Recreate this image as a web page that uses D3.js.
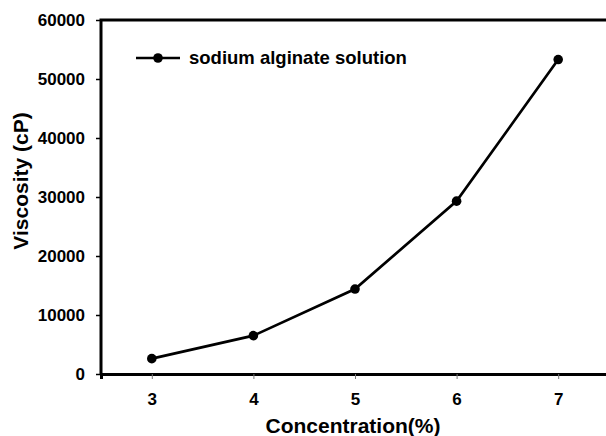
<!DOCTYPE html>
<html>
<meta charset="utf-8">
<style>
body { margin: 0; background: #fff; }
text { font-family: "Liberation Sans", Arial, sans-serif; font-weight: bold; fill: #000; }
</style>
<svg id="chart" width="606" height="436"></svg>
<script src="https://d3js.org/d3.v7.min.js"></script>
<script>

var concentration = [3, 4, 5, 6, 7];
var viscosity = [2600, 6500, 14400, 29300, 53300];
var yTicks = [0, 10000, 20000, 30000, 40000, 50000, 60000];
var seriesName = "sodium alginate solution";

var svg = d3.select("#chart"),
    plotLeft = 101, plotTop = 20, plotBottom = 374, plotRight = 609;

var x = d3.scaleLinear().domain([2.5, 7.5]).range([plotLeft, plotRight]);
var y = d3.scaleLinear().domain([0, 60000]).range([plotBottom, plotTop]);

// frame (left + top)
svg.append("path")
    .attr("d", "M" + plotLeft + "," + plotBottom + "V" + plotTop + "H" + plotRight)
    .attr("fill", "none").attr("stroke", "#000").attr("stroke-width", 3);

var yAxis = svg.append("g")
    .attr("transform", "translate(" + plotLeft + ",0)")
    .call(d3.axisLeft(y).tickValues(yTicks).tickSize(5).tickPadding(11).tickFormat(d3.format("d")));
yAxis.select(".domain").remove();
yAxis.selectAll("line").attr("stroke-width", 1.5);
yAxis.selectAll("text").style("font-size", "17px");

var xAxis = svg.append("g")
    .attr("transform", "translate(0," + plotBottom + ")")
    .call(d3.axisBottom(x).tickValues(concentration).tickSize(5).tickPadding(14).tickFormat(d3.format("d")));
xAxis.select(".domain").attr("stroke-width", 3);
xAxis.selectAll("line").attr("stroke", "#777");
xAxis.selectAll("text").style("font-size", "17px");

svg.append("text")
    .attr("x", 353).attr("y", 433)
    .attr("text-anchor", "middle")
    .style("font-size", "21px")
    .text("Concentration(%)");

svg.append("text")
    .attr("transform", "translate(28,181) rotate(-90)")
    .attr("text-anchor", "middle")
    .style("font-size", "21px")
    .text("Viscosity (cP)");

var line = d3.line()
    .x(function(d, i) { return x(concentration[i]); })
    .y(function(d) { return y(d); });

svg.append("path")
    .datum(viscosity)
    .attr("d", line)
    .attr("fill", "none").attr("stroke", "#000").attr("stroke-width", 2.7);

svg.selectAll(".dot")
    .data(viscosity)
    .enter().append("circle")
    .attr("cx", function(d, i) { return x(concentration[i]); })
    .attr("cy", function(d) { return y(d); })
    .attr("r", 4.8);

// legend
var lg = svg.append("g").attr("transform", "translate(136,58)");
lg.append("line").attr("x1", 0).attr("x2", 44).attr("stroke", "#000").attr("stroke-width", 2.7);
lg.append("circle").attr("cx", 22).attr("r", 4.8);
lg.append("text").attr("x", 53).attr("dy", "0.35em").style("font-size", "18.5px").text(seriesName);

</script>
</html>
